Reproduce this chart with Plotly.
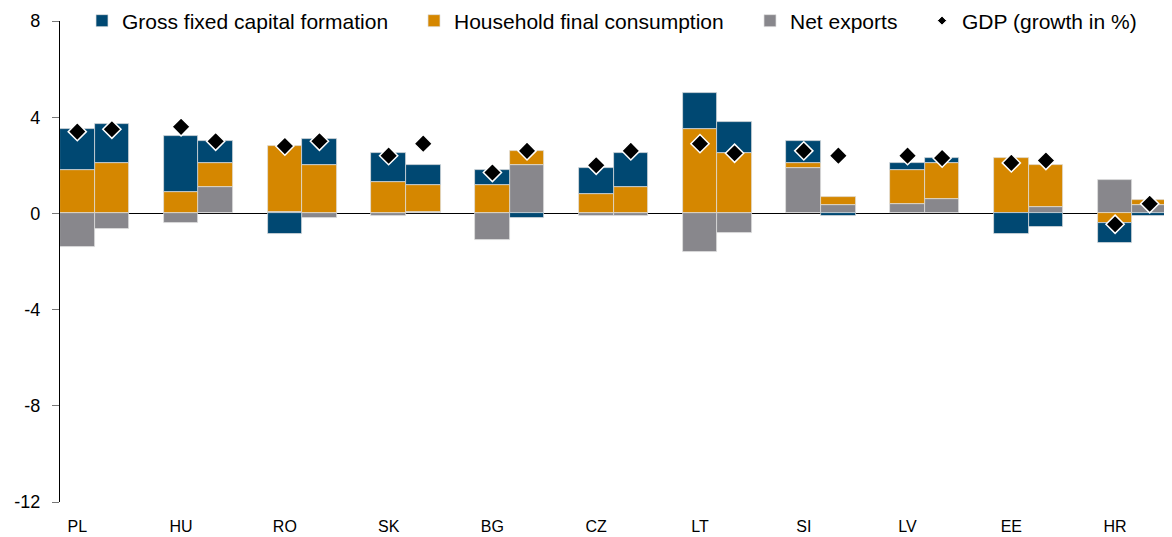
import plotly.graph_objects as go

countries = ["PL", "HU", "RO", "SK", "BG", "CZ", "LT", "SI", "LV", "EE", "HR"]

# first bar of each country
gfcf_1 = [1.7, 2.3, -0.85, 1.2, 0.6, 1.1, 1.5, 0.9, 0.3, -0.85, -0.85]
hh_1 = [1.8, 0.9, 2.75, 1.3, 1.2, 0.8, 3.5, 0.2, 1.4, 2.3, -0.4]
nx_1 = [-1.4, -0.4, 0.05, -0.1, -1.1, -0.1, -1.6, 1.9, 0.4, 0.0, 1.4]
gdp_1 = [3.4, 3.6, 2.8, 2.4, 1.7, 2.0, 2.9, 2.6, 2.4, 2.1, -0.45]

# second bar of each country
gfcf_2 = [1.6, 0.9, 1.1, 0.8, -0.2, 1.4, 1.3, -0.1, 0.2, -0.55, -0.1]
hh_2 = [2.1, 1.0, 2.0, 1.15, 0.6, 1.1, 2.5, 0.3, 1.5, 1.75, 0.2]
nx_2 = [-0.65, 1.1, -0.2, 0.05, 2.0, -0.1, -0.8, 0.37, 0.6, 0.25, 0.35]
gdp_2 = [3.5, 3.0, 3.0, 2.9, 2.6, 2.6, 2.5, 2.4, 2.3, 2.2, 0.4]

y_ticks = [-12, -8, -4, 0, 4, 8]

BLUE = "#004872"
ORANGE = "#D58700"
GREY = "#88878C"
FONT = "Liberation Sans, Arial, sans-serif"

# x slots: each country uses slot 3i (first bar) and 3i+1 (second bar), slot 3i+2 empty
x_pos = []
for i in range(len(countries)):
    x_pos += [3 * i, 3 * i + 1]

def interleave(a, b):
    out = []
    for u, v in zip(a, b):
        out += [u, v]
    return out

nx = interleave(nx_1, nx_2)
hh = interleave(hh_1, hh_2)
gfcf = interleave(gfcf_1, gfcf_2)
gdp = interleave(gdp_1, gdp_2)

bar_line = dict(color="rgba(225,225,225,0.9)", width=0.8)

fig = go.Figure()
fig.add_trace(go.Bar(x=x_pos, y=nx, width=1, name="Net exports",
                     marker=dict(color=GREY, line=bar_line),
                     legend="legend3", legendrank=3))
fig.add_trace(go.Bar(x=x_pos, y=hh, width=1, name="Household final consumption",
                     marker=dict(color=ORANGE, line=bar_line),
                     legend="legend2", legendrank=2))
fig.add_trace(go.Bar(x=x_pos, y=gfcf, width=1, name="Gross fixed capital formation",
                     marker=dict(color=BLUE, line=bar_line),
                     legend="legend", legendrank=1))
fig.add_trace(go.Scatter(x=x_pos, y=gdp, mode="markers", name="GDP (growth in %)",
                         marker=dict(symbol="diamond", size=14, color="black",
                                     line=dict(color="white", width=1.5)),
                         showlegend=False))
# legend entry for GDP with a small diamond
fig.add_trace(go.Scatter(x=[None], y=[None], mode="markers", name="GDP (growth in %)",
                         marker=dict(symbol="diamond", size=7, color="black",
                                     line=dict(color="white", width=1)),
                         legend="legend4", legendrank=4))

# the page body has an 8px margin, so the figure is drawn 8px right/down
BODY = 8
W, H = 1172 - BODY, 537 - BODY
L, R, T, B = 60 - BODY, 5, 21 - BODY, 35
pw = W - L - R

def lx(page_px):
    return (page_px - BODY - L) / pw

TXT_OFF = 40
leg_common = dict(orientation="h", yanchor="middle", y=1.0, xanchor="left",
                  font=dict(family=FONT, size=21, color="black"),
                  bgcolor="rgba(0,0,0,0)", borderwidth=0)

fig.update_layout(
    width=W, height=H,
    margin=dict(l=L, r=R, t=T, b=B, autoexpand=False),
    barmode="relative",
    bargap=0,
    plot_bgcolor="white",
    paper_bgcolor="white",
    font=dict(family=FONT, color="black"),
    legend=dict(x=lx(122 - TXT_OFF), **leg_common),
    legend2=dict(x=lx(454 - TXT_OFF), **leg_common),
    legend3=dict(x=lx(790 - TXT_OFF), **leg_common),
    legend4=dict(x=lx(962 - TXT_OFF), **leg_common),
    xaxis=dict(
        range=[-0.5, 3 * len(countries) - 1.5],
        tickmode="array",
        tickvals=[3 * i for i in range(len(countries))],
        ticktext=countries,
        showgrid=False, zeroline=False, showline=False, ticks="",
        tickfont=dict(family=FONT, size=16, color="black"),
        ticklabelstandoff=13,
    ),
    yaxis=dict(
        range=[-12, 8],
        tickmode="array",
        tickvals=y_ticks,
        ticktext=[str(v) for v in y_ticks],
        showgrid=False,
        zeroline=True, zerolinecolor="black", zerolinewidth=1.2,
        showline=True, linecolor="black", linewidth=1.2,
        ticks="outside", ticklen=7, tickcolor="#777777", tickwidth=1,
        tickfont=dict(family=FONT, size=18, color="black"),
        ticklabelstandoff=8,
        layer="above traces",
    ),
)

fig.write_html("out.html")
